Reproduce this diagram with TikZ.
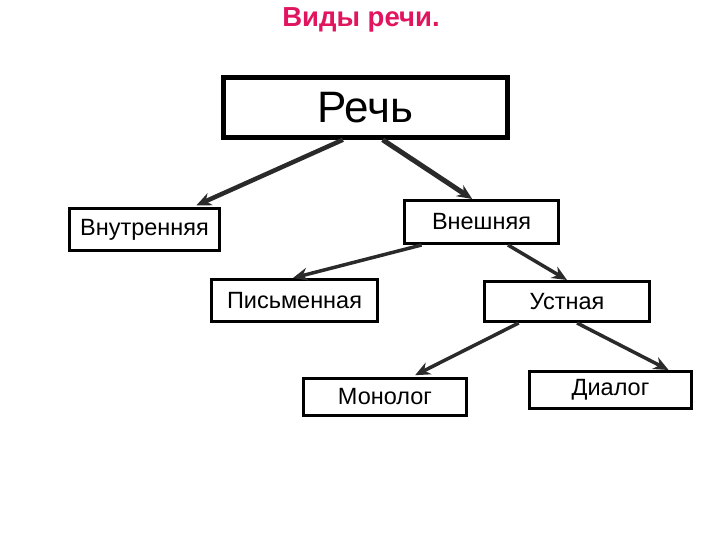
\documentclass[tikz,border=0pt]{standalone}
\usepackage{fontspec}
\setmainfont{Liberation Sans}
\usetikzlibrary{arrows.meta}
\definecolor{titlered}{HTML}{E0145F}
\definecolor{arrowgrey}{HTML}{2A2A2A}

\begin{document}
\begin{tikzpicture}[x=1pt,y=-1pt,
  speechbox/.style={draw,line width=3pt,inner sep=0pt,font=\fontsize{23.5}{26}\selectfont},
  link/.style={-{Stealth[length=15pt,width=13pt]},arrowgrey,line width=3.5pt}]
  \useasboundingbox (0,0) rectangle (720,540);
  % Title
  \node[font=\fontsize{27.5}{30}\selectfont\bfseries,text=titlered] (title) at (361,20) {Виды речи.};
  % Top level
  \node[speechbox,line width=4.5pt,minimum width=284pt,minimum height=60pt,
        font=\fontsize{44}{48}\selectfont] (rech) at (365.5,107.5) {Речь};
  % Second level
  \node[speechbox,minimum width=150pt,minimum height=42pt] (vnutr) at (144.5,229.5) {Внутренняя};
  \node[speechbox,minimum width=154pt,minimum height=43pt] (vnesh) at (481.5,222) {Внешняя};
  % Third level
  \node[speechbox,minimum width=166pt,minimum height=42pt] (pism) at (294.5,300.5) {Письменная};
  \node[speechbox,minimum width=165pt,minimum height=40pt] (ustn) at (567,301.5) {Устная};
  % Fourth level
  \node[speechbox,minimum width=163pt,minimum height=37pt] (monol) at (385,397) {Монолог};
  \node[speechbox,minimum width=162pt,minimum height=37pt] (dial) at (610.5,390) {Диалог};
  % Arrows
  \draw[link,line width=4.5pt,shorten >=4pt] (rech.235) -- (vnutr.25);
  \draw[link,line width=5pt] (rech.298) -- (vnesh.112);
  \draw[link] (vnesh.201) -- (pism.94);
  \draw[link] (vnesh.319) -- (ustn.north);
  \draw[link,shorten >=4pt] (ustn.204) -- (monol.37);
  \draw[link] (ustn.295) -- (dial.19);
\end{tikzpicture}
\end{document}
